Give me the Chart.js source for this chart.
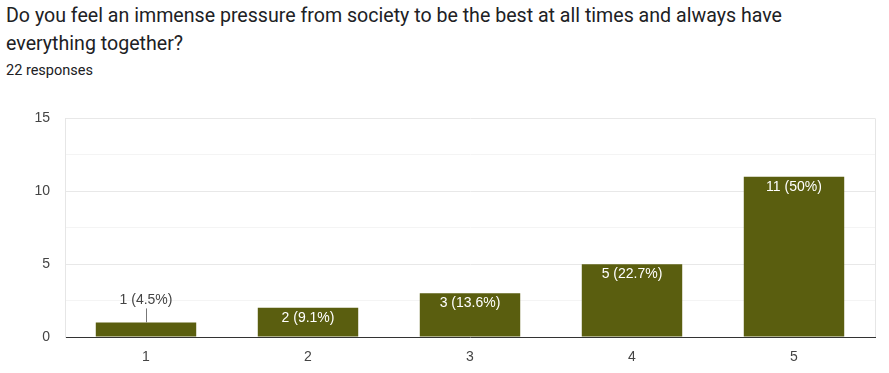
<!DOCTYPE html>
<html>
<head>
<meta charset="utf-8">
<script src="https://cdn.jsdelivr.net/npm/chart.js@4/dist/chart.umd.min.js"></script>
<style>
  html, body { margin: 0; padding: 0; background: #fff; }
  body { width: 889px; height: 373px; position: relative; overflow: hidden; font-family: Roboto, Arial, sans-serif; }
  #title { position: absolute; left: 6px; top: 2px; width: 880px; font-size: 19.6px; line-height: 28px; color: #202124; white-space: nowrap; }
  #sub { position: absolute; left: 6px; top: 62px; font-size: 14.5px; color: #202124; }
  #wrap { position: absolute; left: 0; top: 95px; width: 889px; height: 278px; }
</style>
</head>
<body>
<div id="title">Do you feel an immense pressure from society to be the best at all times and always have<br>everything together?</div>
<div id="sub">22 responses</div>
<div id="wrap"><canvas id="chart"></canvas></div>
<script>
const categories = ["1", "2", "3", "4", "5"];
const counts = [1, 2, 3, 5, 11];
const percents = ["4.5%", "9.1%", "13.6%", "22.7%", "50%"];
const yTicks = [0, 5, 10, 15];

const barColor = "#5a5e0f";
const chartFont = "'Liberation Sans', Arial, sans-serif";

// value labels: white inside the bar, or above with a short leader if the bar is too short
const barLabels = {
  id: "barLabels",
  afterDatasetsDraw(chart) {
    const ctx = chart.ctx;
    const meta = chart.getDatasetMeta(0);
    ctx.save();
    ctx.font = `14px ${chartFont}`;
    ctx.textAlign = "center";
    ctx.textBaseline = "middle";
    meta.data.forEach((bar, i) => {
      const text = `${counts[i]} (${percents[i]})`;
      const h = bar.base - bar.y;
      if (h >= 22) {
        ctx.fillStyle = "#ffffff";
        ctx.fillText(text, bar.x, bar.y + 10);
      } else {
        ctx.strokeStyle = "#777";
        ctx.lineWidth = 1;
        ctx.beginPath();
        ctx.moveTo(bar.x + 0.5, bar.y);
        ctx.lineTo(bar.x + 0.5, bar.y - 14);
        ctx.stroke();
        ctx.fillStyle = "#444";
        ctx.fillText(text, bar.x, bar.y - 22);
      }
    });
    // right edge of the plot
    const a = chart.chartArea;
    ctx.strokeStyle = "#e6e6e6";
    ctx.beginPath();
    ctx.moveTo(a.right + 0.5, a.top);
    ctx.lineTo(a.right + 0.5, a.bottom);
    ctx.stroke();
    ctx.restore();
  },
};

new Chart(document.getElementById("chart"), {
  type: "bar",
  data: {
    labels: categories,
    datasets: [{
      data: counts,
      backgroundColor: barColor,
      borderWidth: 0,
      barPercentage: 0.62,
      categoryPercentage: 1,
    }],
  },
  options: {
    responsive: true,
    maintainAspectRatio: false,
    animation: false,
    layout: { padding: { top: 10, right: 14, left: 0, bottom: 0 } },
    plugins: { legend: { display: false }, tooltip: { enabled: false } },
    scales: {
      x: {
        grid: { display: false },
        border: { color: "#333", width: 1 },
        ticks: { color: "#444", padding: 4, font: { size: 14, family: chartFont } },
        afterFit(scale) { scale.height = 36; },
      },
      y: {
        min: 0,
        max: 15,
        border: { color: "#e6e6e6" },
        grid: {
          drawTicks: false,
          color: (c) => (c.tick && c.tick.value % 5 === 0 ? "#e8e8e8" : "#f4f4f4"),
        },
        ticks: {
          stepSize: 2.5,
          padding: 15,
          color: "#444",
          font: { size: 14, family: chartFont },
          callback: (v) => (yTicks.includes(v) ? v : ""),
        },
        afterFit(scale) { scale.width = 65; },
      },
    },
  },
  plugins: [barLabels],
});
</script>
</body>
</html>
